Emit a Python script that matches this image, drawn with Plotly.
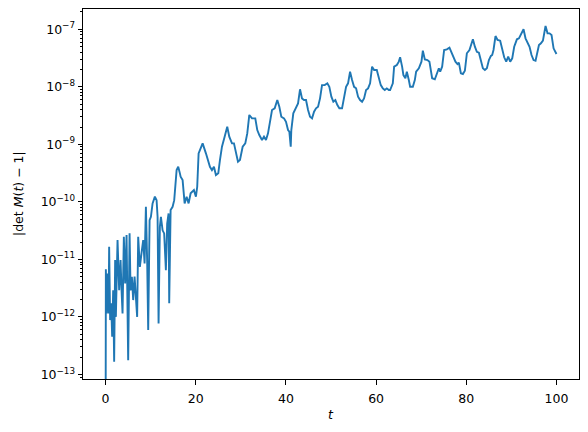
import plotly.graph_objects as go

# time samples t
t = [0.0, 0.02, 0.07, 0.22, 0.44, 0.67, 0.80, 1.02, 1.25, 1.47, 1.69, 1.91, 2.13, 2.29, 2.66,
     3.02, 3.33, 3.55, 3.77, 4.06, 4.35, 4.66, 5.02, 5.33, 5.55, 5.84, 6.13, 6.44, 6.73, 7.01,
     7.24, 7.61, 8.06, 8.35, 8.66, 8.95, 9.24, 9.46, 9.77, 10.06, 10.43, 10.94, 11.32, 11.54,
     11.76, 12.05, 12.28, 12.65, 13.0, 13.38, 13.67, 13.98, 14.12, 14.43, 14.87, 15.23, 15.76,
     16.12, 16.49, 16.65, 17.09, 17.54, 17.98, 18.42, 18.87, 19.6, 20.04, 20.33, 20.64, 21.09,
     21.53, 22.26, 22.71, 23.15, 23.6, 24.04, 24.48, 25.0, 25.37, 25.82, 26.41, 26.99, 27.44,
     28.04, 28.48, 28.92, 29.37, 29.81, 30.41, 30.99, 31.43, 31.88, 32.48, 33.21, 33.65, 34.1,
     34.7, 35.14, 35.58, 36.03, 36.47, 36.92, 37.51, 38.09, 38.54, 38.98, 39.58, 40.02, 40.47,
     40.76, 41.07, 41.2, 41.64, 42.24, 42.69, 43.13, 43.57, 44.02, 44.46, 44.91, 45.35, 45.8,
     46.24, 46.68, 47.13, 47.57, 48.01, 48.61, 49.19, 49.63, 50.08, 50.52, 50.97, 51.41, 51.85,
     52.45, 52.9, 53.34, 53.78, 54.23, 54.67, 55.12, 55.56, 56.0, 56.45, 56.89, 57.33, 57.78,
     58.22, 58.67, 59.11, 59.56, 60.15, 60.6, 61.04, 61.49, 61.93, 62.37, 62.82, 63.11, 63.71,
     64.0, 64.6, 65.04, 65.33, 65.77, 66.06, 66.5, 66.82, 67.26, 67.55, 68.15, 68.59, 68.88,
     69.48, 70.06, 70.37, 70.81, 71.39, 71.83, 72.14, 72.43, 73.03, 73.47, 73.92, 74.21, 74.65,
     75.09, 75.69, 76.27, 76.71, 77.16, 77.6, 78.05, 78.36, 78.8, 79.25, 79.69, 80.13, 80.71,
     81.15, 81.47, 81.91, 82.35, 82.8, 83.24, 83.68, 84.13, 84.57, 85.02, 85.46, 85.75, 86.04,
     86.48, 86.93, 87.52, 87.97, 88.41, 88.86, 89.3, 89.74, 90.19, 90.63, 91.23, 91.68, 92.12,
     92.7, 93.14, 93.59, 94.03, 94.47, 94.92, 95.36, 95.8, 96.12, 96.56, 97.0, 97.58, 98.02,
     98.47, 98.91, 99.36, 99.8, 100.0]

# |det M(t) - 1|
det_err = [1e-15, 5.5e-13, 6.7e-12, 1.15e-12, 5.7e-12, 1.15e-12, 1.66e-11, 8.8e-13, 1.72e-12,
           4.5e-13, 2.9e-12, 1.66e-13, 9.7e-12, 1.0e-12, 2.17e-11, 2.9e-12, 9.7e-12, 2.9e-12,
           1.15e-12, 2.47e-11, 3.8e-12, 2.65e-11, 1.77e-13, 2.83e-11, 2.9e-12, 5.0e-12, 1.96e-12,
           5.0e-12, 2.24e-12, 1.0e-12, 2.47e-11, 7.4e-12, 1.45e-11, 2.17e-11, 8.5e-12, 8.2e-11,
           8.5e-12, 5.9e-13, 4.8e-11, 5.5e-11, 9.4e-11, 1.23e-10, 1.07e-10, 5.5e-11, 7.7e-13,
           3.7e-11, 5.5e-11, 3.2e-11, 2.83e-11, 6.5e-12, 4.2e-11, 6.3e-11, 1.72e-12, 7.2e-11,
           8.2e-11, 1.07e-10, 3.57e-10, 4.07e-10, 3.13e-10, 2.73e-10, 2.39e-10, 9.4e-11, 1.23e-10,
           9.4e-11, 1.41e-10, 1.6e-10, 1.23e-10, 1.83e-10, 6.97e-10, 8.5e-10, 1.04e-9, 6.97e-10,
           5.33e-10, 4.07e-10, 3.57e-10, 4.07e-10, 2.92e-10, 3.13e-10, 5.33e-10, 9.1e-10, 1.36e-9,
           2.02e-9, 1.36e-9, 1.04e-9, 1.04e-9, 6.97e-10, 4.98e-10, 5.33e-10, 9.1e-10, 1.04e-9,
           1.55e-9, 3.24e-9, 2.83e-9, 2.83e-9, 1.77e-9, 1.45e-9, 1.19e-9, 1.36e-9, 1.19e-9, 1.55e-9,
           2.32e-9, 3.95e-9, 4.23e-9, 5.89e-9, 4.51e-9, 3.02e-9, 2.83e-9, 2.47e-9, 1.77e-9, 1.66e-9,
           9.1e-10, 1.77e-9, 3.46e-9, 4.23e-9, 5.16e-9, 9.05e-9, 6.3e-9, 5.89e-9, 5.89e-9, 3.95e-9,
           3.02e-9, 2.83e-9, 3.69e-9, 4.23e-9, 4.51e-9, 6.3e-9, 1.07e-8, 1.07e-8, 1.15e-8, 1.0e-8,
           6.73e-9, 5.51e-9, 5.89e-9, 4.82e-9, 4.23e-9, 4.23e-9, 6.73e-9, 1.0e-8, 1.15e-8, 1.83e-8,
           1.31e-8, 1.0e-8, 9.4e-9, 6.73e-9, 5.89e-9, 5.51e-9, 6.3e-9, 8.8e-9, 9.4e-9, 1.15e-8,
           2.24e-8, 1.96e-8, 1.96e-8, 1.41e-8, 1.07e-8, 9.4e-9, 8.8e-9, 9.4e-9, 8.8e-9, 8.8e-9,
           1.15e-8, 2.24e-8, 2.39e-8, 2.74e-8, 3.26e-8, 2.24e-8, 1.6e-8, 1.41e-8, 1.83e-8, 1.31e-8,
           1.0e-8, 1.0e-8, 1.31e-8, 1.83e-8, 2.1e-8, 2.74e-8, 4.25e-8, 3.0e-8, 2.92e-8, 2.74e-8,
           1.72e-8, 1.41e-8, 1.35e-8, 1.67e-8, 2.1e-8, 1.83e-8, 2.24e-8, 4.37e-8, 4.49e-8, 4.79e-8,
           4.07e-8, 3.34e-8, 2.74e-8, 2.49e-8, 2.63e-8, 1.72e-8, 1.67e-8, 1.9e-8, 3.83e-8, 4.37e-8,
           5.71e-8, 6.7e-8, 4.98e-8, 4.07e-8, 3.92e-8, 3.0e-8, 2.1e-8, 1.96e-8, 2.1e-8, 2.92e-8,
           3.44e-8, 3.57e-8, 4.37e-8, 7.64e-8, 6.52e-8, 6.34e-8, 4.37e-8, 3.26e-8, 2.74e-8, 3.34e-8,
           2.74e-8, 3.13e-8, 4.98e-8, 6.7e-8, 6.97e-8, 7.96e-8, 1.0e-7, 6.97e-8, 5.85e-8, 4.98e-8,
           3.57e-8, 2.92e-8, 2.84e-8, 3.83e-8, 5.33e-8, 5.71e-8, 6.34e-8, 1.14e-7, 8.5e-8, 8.5e-8,
           7.96e-8, 4.67e-8, 3.92e-8, 3.72e-8]

x_ticks = [0, 20, 40, 60, 80, 100]
y_exponents = [-13, -12, -11, -10, -9, -8, -7]

FONT = "DejaVu Sans"

fig = go.Figure()
fig.add_trace(go.Scatter(x=t, y=det_err, mode="lines",
                         line=dict(color="#1f77b4", width=1.9), showlegend=False))

y_tickvals = [10.0 ** e for e in y_exponents]
y_ticktext = ["10<sup>\u2212%d</sup>" % (-e) for e in y_exponents]
minor_vals = [m * 10.0 ** e for e in range(-14, -6) for m in range(2, 10)]

fig.update_layout(
    width=588, height=432,
    margin=dict(l=83, r=9, t=9, b=53),
    paper_bgcolor="white", plot_bgcolor="white",
    font=dict(family=FONT, size=12.5, color="black"),
    xaxis=dict(range=[-5, 105], tickmode="array", tickvals=x_ticks,
               ticktext=[str(v) for v in x_ticks], automargin=False,
               ticks="outside", ticklen=4.5, tickwidth=1, tickcolor="black",
               ticklabelstandoff=3,
               showline=True, linecolor="black", linewidth=1, mirror=True,
               showgrid=False, zeroline=False),
    yaxis=dict(type="log", range=[-13.08, -6.647], tickmode="array",
               tickvals=y_tickvals, ticktext=y_ticktext, automargin=False,
               ticks="outside", ticklen=4.5, tickwidth=1, tickcolor="black",
               minor=dict(tickmode="array", tickvals=minor_vals, ticks="outside",
                          ticklen=2.5, tickwidth=0.7, tickcolor="black", showgrid=False),
               showline=True, linecolor="black", linewidth=1, mirror=True,
               showgrid=False, zeroline=False),
    annotations=[
        dict(text="<i>t</i>", xref="paper", yref="paper", x=0.5, y=-0.097,
             xanchor="center", yanchor="middle", showarrow=False,
             font=dict(family=FONT, size=12.5)),
        dict(text="|det <i>M</i>(<i>t</i>) \u2212 1|", xref="paper", yref="paper",
             x=-0.131, y=0.5, xanchor="center", yanchor="middle", textangle=-90,
             showarrow=False, font=dict(family=FONT, size=12.5)),
    ],
)

fig.write_html("out.html", config={"displayModeBar": False},
               post_script="document.body.style.margin='0';document.body.style.overflow='hidden';")
